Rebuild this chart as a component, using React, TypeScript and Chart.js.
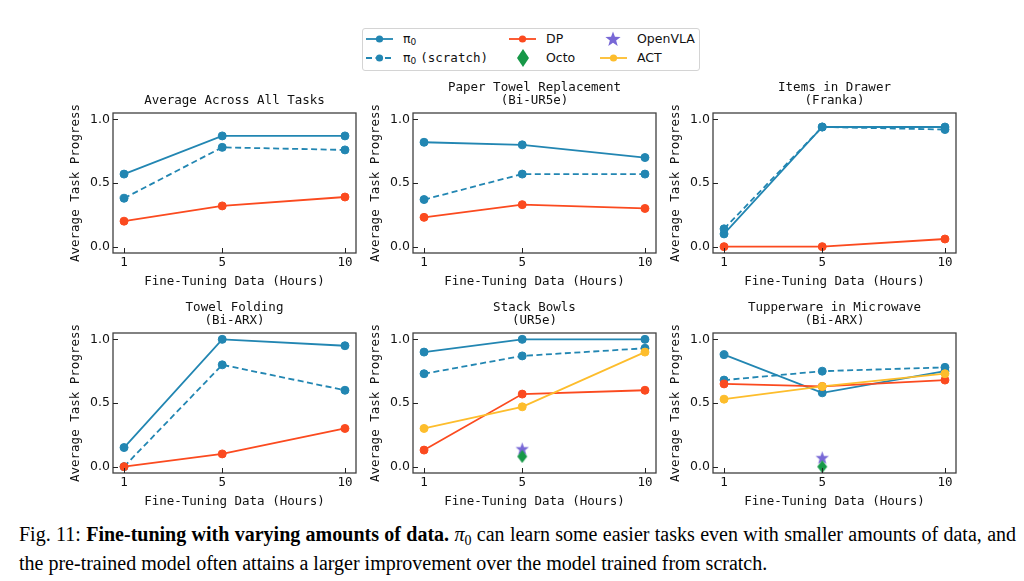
import { useEffect, useRef } from "react";
import { Chart, registerables } from "chart.js";

Chart.register(...registerables);

// fine-tuning hours on the x axis
const hours = [1, 5, 10];
const xTicks = [1, 5, 10];
const yTicks = [0, 0.5, 1];
const singleRunHours = 5;

const taskTitles = [
  ["Average Across All Tasks"],
  ["Paper Towel Replacement", "(Bi-UR5e)"],
  ["Items in Drawer", "(Franka)"],
  ["Towel Folding", "(Bi-ARX)"],
  ["Stack Bowls", "(UR5e)"],
  ["Tupperware in Microwave", "(Bi-ARX)"],
];

const pi0 = [
  [0.57, 0.87, 0.87],
  [0.82, 0.8, 0.7],
  [0.1, 0.94, 0.94],
  [0.15, 1.0, 0.95],
  [0.9, 1.0, 1.0],
  [0.88, 0.58, 0.75],
];
const pi0Scratch = [
  [0.38, 0.78, 0.76],
  [0.37, 0.57, 0.57],
  [0.14, 0.94, 0.92],
  [0.0, 0.8, 0.6],
  [0.73, 0.87, 0.93],
  [0.68, 0.75, 0.78],
];
const dp = [
  [0.2, 0.32, 0.39],
  [0.23, 0.33, 0.3],
  [0.0, 0.0, 0.06],
  [0.0, 0.1, 0.3],
  [0.13, 0.57, 0.6],
  [0.65, 0.63, 0.68],
];
const act = [null, null, null, null, [0.3, 0.47, 0.9], [0.53, 0.63, 0.73]];
// OpenVLA and Octo only ran at 5 hours
const openVla = [null, null, null, null, 0.14, 0.07];
const octo = [null, null, null, null, 0.08, 0.0];

const BLUE = "#2286b2";
const RED = "#fb4a1f";
const YELLOW = "#fdbd2c";
const PURPLE = "#7868d6";
const GREEN = "#179848";
const INK = "#111";
const MONO = "'DejaVu Sans Mono', monospace";
const SANS = "'DejaVu Sans', sans-serif";

function starPath(cx: number, cy: number, outer: number, inner: number) {
  const pts: [number, number][] = [];
  for (let i = 0; i < 10; i++) {
    const r = i % 2 === 0 ? outer : inner;
    const a = -Math.PI / 2 + (i * Math.PI) / 5;
    pts.push([cx + r * Math.cos(a), cy + r * Math.sin(a)]);
  }
  return pts;
}

function diamondPath(cx: number, cy: number, w: number, h: number) {
  return [
    [cx, cy - h / 2],
    [cx + w / 2, cy],
    [cx, cy + h / 2],
    [cx - w / 2, cy],
  ] as [number, number][];
}

function markerImage(pts: (s: number) => [number, number][], size: number, color: string) {
  const c = document.createElement("canvas");
  c.width = size;
  c.height = size;
  const ctx = c.getContext("2d")!;
  ctx.fillStyle = color;
  ctx.beginPath();
  pts(size).forEach(([x, y], i) => (i ? ctx.lineTo(x, y) : ctx.moveTo(x, y)));
  ctx.closePath();
  ctx.fill();
  return c;
}

const frameTicks = {
  id: "frameTicks",
  afterDraw(chart: Chart) {
    const { ctx, chartArea: a } = chart;
    const x = chart.scales.x;
    const y = chart.scales.y;
    ctx.save();
    ctx.strokeStyle = "#404040";
    ctx.lineWidth = 1.3;
    ctx.strokeRect(a.left, a.top, a.width, a.height);
    ctx.lineWidth = 1;
    ctx.strokeStyle = "#222";
    ctx.beginPath();
    x.ticks.forEach((t) => {
      const px = Math.round(x.getPixelForValue(t.value)) + 0.5;
      ctx.moveTo(px, a.bottom);
      ctx.lineTo(px, a.bottom - 5);
    });
    y.ticks.forEach((t) => {
      const py = Math.round(y.getPixelForValue(t.value)) + 0.5;
      ctx.moveTo(a.left, py);
      ctx.lineTo(a.left + 5, py);
    });
    ctx.stroke();
    ctx.restore();
  },
};

function lineSet(label: string, values: number[], color: string, dashed = false) {
  return {
    label,
    data: hours.map((h, i) => ({ x: h, y: values[i] })),
    borderColor: color,
    backgroundColor: color,
    borderWidth: 1.8,
    borderDash: dashed ? [6, 3.5] : [],
    pointRadius: 4,
    pointBorderWidth: 1,
    pointBorderColor: color,
    pointBackgroundColor: color,
  };
}

function Panel({ index, left, top }: { index: number; left: number; top: number }) {
  const canvasRef = useRef<HTMLCanvasElement>(null);

  useEffect(() => {
    if (!canvasRef.current) return;
    const titleLines = taskTitles[index];

    const star = markerImage((s) => starPath(s / 2, s / 2 + 0.5, 7, 2.9), 15, PURPLE);
    const diamond = markerImage((s) => diamondPath(s / 2, s / 2, 10, 13), 14, GREEN);

    // first dataset is drawn on top, so order is the reverse of plotting order
    const datasets: any[] = [];
    if (octo[index] !== null) {
      datasets.push({
        label: "Octo",
        data: [{ x: singleRunHours, y: octo[index] }],
        pointStyle: diamond,
        pointRadius: 6,
        showLine: false,
      });
    }
    if (openVla[index] !== null) {
      datasets.push({
        label: "OpenVLA",
        data: [{ x: singleRunHours, y: openVla[index] }],
        pointStyle: star,
        pointRadius: 6,
        showLine: false,
      });
    }
    const actValues = act[index];
    if (actValues) datasets.push(lineSet("ACT", actValues, YELLOW));
    datasets.push(lineSet("DP", dp[index], RED));
    datasets.push(lineSet("π0 (scratch)", pi0Scratch[index], BLUE, true));
    datasets.push(lineSet("π0", pi0[index], BLUE));

    const chart = new Chart(canvasRef.current, {
      type: "line",
      data: { datasets },
      plugins: [frameTicks],
      options: {
        responsive: true,
        maintainAspectRatio: false,
        animation: false,
        layout: { padding: { right: 12 } },
        plugins: {
          legend: { display: false },
          tooltip: { enabled: false },
          title: {
            display: true,
            text: titleLines,
            fullSize: false,
            color: INK,
            font: { family: MONO, size: 12.5, weight: "normal", lineHeight: 1.04 },
            padding: { top: titleLines.length === 1 ? 21 : 8, bottom: 6 },
          },
        },
        scales: {
          x: {
            type: "linear",
            min: 0.55,
            max: 10.45,
            afterBuildTicks: (s) => {
              s.ticks = xTicks.map((v) => ({ value: v }));
            },
            afterFit: (s) => {
              s.height = 45;
            },
            grid: { display: false, drawTicks: false },
            border: { display: false },
            ticks: {
              padding: 2,
              maxRotation: 0,
              autoSkip: false,
              color: INK,
              font: { family: MONO, size: 12.5 },
              callback: (v) => String(v),
            },
            title: {
              display: true,
              text: "Fine-Tuning Data (Hours)",
              color: INK,
              font: { family: MONO, size: 12.5, lineHeight: 1.04 },
              padding: { top: 0, bottom: 9.5 },
            },
          },
          y: {
            type: "linear",
            min: -0.05,
            max: 1.05,
            afterBuildTicks: (s) => {
              s.ticks = yTicks.map((v) => ({ value: v }));
            },
            afterFit: (s) => {
              s.width = 60;
            },
            grid: { display: false, drawTicks: false },
            border: { display: false },
            ticks: {
              padding: 3,
              color: INK,
              font: { family: SANS, size: 12.5 },
              callback: (v) => Number(v).toFixed(1),
            },
            title: {
              display: true,
              text: "Average Task Progress",
              color: INK,
              font: { family: MONO, size: 12.5, lineHeight: 1.04 },
              padding: { top: 16.5, bottom: 0 },
            },
          },
        },
      },
    });

    return () => {
      chart.destroy();
    };
  }, [index]);

  return (
    <div style={{ position: "absolute", left, top, width: 315, height: 225 }}>
      <canvas ref={canvasRef} />
    </div>
  );
}

function LegendLine({ x, y, color, dashed }: { x: number; y: number; color: string; dashed?: boolean }) {
  return (
    <g>
      <line
        x1={x}
        x2={x + 27}
        y1={y}
        y2={y}
        stroke={color}
        strokeWidth={1.8}
        strokeDasharray={dashed ? "6 3.5" : undefined}
      />
      <circle cx={x + 13.5} cy={y} r={3.6} fill={color} />
    </g>
  );
}

function Legend() {
  const text = (left: number, cy: number, content: any) => (
    <span
      style={{
        position: "absolute",
        left,
        top: cy - 8,
        lineHeight: "16px",
        fontFamily: SANS,
        fontSize: 12.5,
        color: INK,
        whiteSpace: "nowrap",
      }}
    >
      {content}
    </span>
  );
  const pi = (
    <>
      π<sub style={{ fontSize: 9, verticalAlign: "-2px" }}>0</sub>
    </>
  );
  const pts = (p: [number, number][]) => p.map((q) => q.join(",")).join(" ");
  return (
    <div
      style={{
        position: "absolute",
        left: 362,
        top: 28,
        width: 338,
        height: 43,
        boxSizing: "border-box",
        border: "1px solid #d4d4d4",
        borderRadius: 3,
      }}
    >
      <svg width={338} height={43} style={{ position: "absolute", left: -1, top: -1 }}>
        <LegendLine x={4} y={11} color={BLUE} />
        <LegendLine x={4} y={30} color={BLUE} dashed />
        <LegendLine x={147} y={11} color={RED} />
        <polygon points={pts(diamondPath(161, 30, 12, 18))} fill={GREEN} />
        <polygon points={pts(starPath(251, 11.5, 8, 3.3))} fill={PURPLE} />
        <LegendLine x={238} y={30} color={YELLOW} />
      </svg>
      {text(40, 10, pi)}
      {text(40, 29, <>{pi} <span style={{ fontFamily: MONO }}>(scratch)</span></>)}
      {text(183, 10, "DP")}
      {text(183, 29, "Octo")}
      {text(274, 10, "OpenVLA")}
      {text(274, 29, "ACT")}
    </div>
  );
}

function Caption() {
  return (
    <div
      style={{
        position: "absolute",
        left: 19,
        top: 523,
        width: 997,
        fontFamily: "'Liberation Serif', serif",
        fontSize: 20,
        lineHeight: "23px",
        color: "#000",
      }}
    >
      <div style={{ textAlign: "justify", textAlignLast: "justify" }}>
        Fig. 11: <b>Fine-tuning with varying amounts of data.</b> <i>π</i>
        <sub style={{ fontSize: 14, verticalAlign: "-4px" }}>0</sub> can learn some easier tasks even with smaller
        amounts of data, and
      </div>
      <div>the pre-trained model often attains a larger improvement over the model trained from scratch.</div>
    </div>
  );
}

export default function App() {
  return (
    <div
      style={{
        position: "fixed",
        left: 0,
        top: 0,
        width: 1024,
        height: 581,
        background: "#fff",
        overflow: "hidden",
      }}
    >
      <Legend />
      {taskTitles.map((_, i) => (
        <Panel key={i} index={i} left={53 + (i % 3) * 300} top={73 + Math.floor(i / 3) * 220} />
      ))}
      <Caption />
    </div>
  );
}
